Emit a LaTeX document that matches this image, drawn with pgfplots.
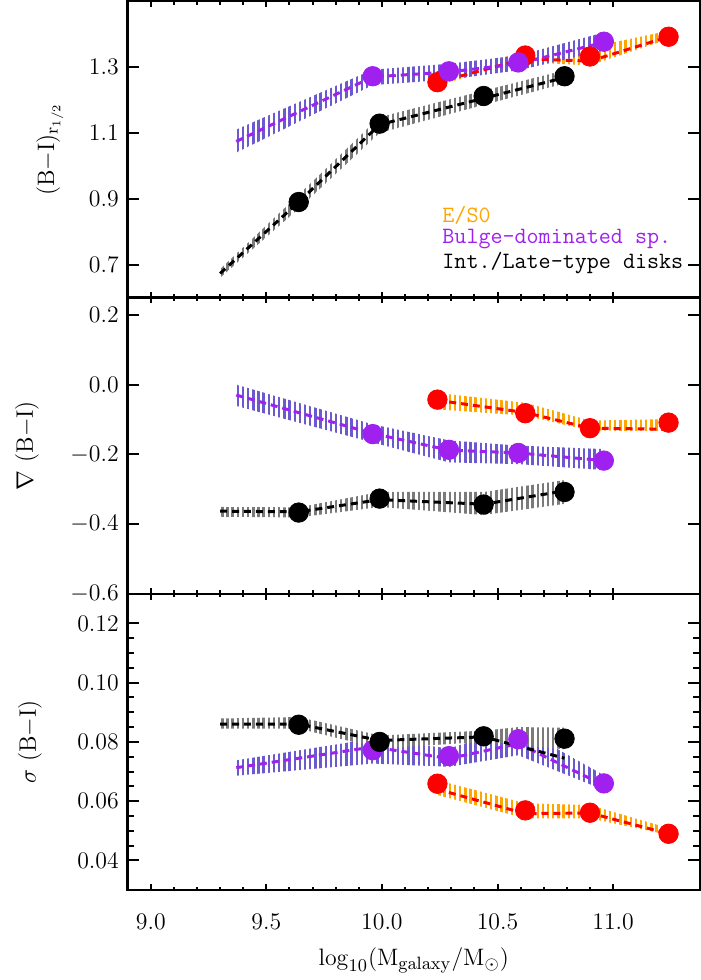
\documentclass[border=0pt]{standalone}
\usepackage{pgfplots}
\pgfplotsset{compat=1.18}
\usepgfplotslibrary{fillbetween}
\usetikzlibrary{patterns.meta}
\definecolor{purp}{HTML}{A020F0}
\definecolor{slate}{HTML}{6A5ACD}
\definecolor{orng}{HTML}{FFA500}
\definecolor{hgray}{HTML}{7A7A7A}
\tikzset{legtext/.style={anchor=west, font=\ttfamily\fontsize{11.8}{12}\selectfont, inner sep=0pt}}
\pgfplotsset{
  panel/.style={
    scale only axis, width=287.7bp, height=149bp,
    xmin=8.9, xmax=11.375,
    xtick={9,9.5,10,10.5,11}, minor x tick num=4,
    tick align=inside, xtick pos=both, ytick pos=both,
    axis line style={line width=1.2bp},
    every tick/.style={black, line width=1bp},
    major tick length=5.8bp, minor tick length=3.3bp,
    xtick style={/pgfplots/major tick length=3bp, /pgfplots/minor tick length=1.7bp},
    tick label style={font=\fontsize{12.5}{14}\selectfont},
    label style={font=\fontsize{12.5}{14}\selectfont},
    yticklabel style={xshift=-1bp},
    clip=false,
  },
  band/.style={draw=none, pattern={Lines[angle=90,distance=2.6bp,line width=1.2bp]}},
  dline/.style={line width=1.5bp, dash pattern=on 3.5bp off 2.5bp},
  dots/.style={only marks, mark=*, mark size=4.9bp, mark options={draw=#1, fill=#1}},
  hid/.style={draw=none, forget plot},
}
\begin{document}
\begin{tikzpicture}
%================ TOP =================
\begin{axis}[panel, name=top, at={(0,0)}, anchor=north west,
  ymin=0.6, ymax=1.5, ytick={0.7,0.9,1.1,1.3}, xticklabels={},
  yticklabel style={/pgf/number format/fixed, /pgf/number format/fixed zerofill, /pgf/number format/precision=1},
  ylabel={$(\mathrm{B}{-}\mathrm{I})_{\mathrm{r}_{1/2}}$},
  ylabel style={at={(axis description cs:-0.136,0.5)}, anchor=center}]
% bands
\addplot[hid, name path=rl] coordinates {(10.24,1.245) (10.62,1.315) (10.90,1.305) (11.24,1.385)};
\addplot[hid, name path=rh] coordinates {(10.24,1.285) (10.62,1.345) (10.90,1.360) (11.24,1.410)};
\addplot[band, pattern color=orng] fill between[of=rl and rh];
\addplot[hid, name path=pl] coordinates {(9.37,1.04) (9.96,1.245) (10.29,1.262) (10.59,1.29) (10.96,1.35)};
\addplot[hid, name path=ph] coordinates {(9.37,1.11) (9.96,1.292) (10.29,1.31) (10.59,1.335) (10.96,1.405)};
\addplot[band, pattern color=slate] fill between[of=pl and ph];
\addplot[hid, name path=bl] coordinates {(9.30,0.660) (9.64,0.870) (9.99,1.100) (10.44,1.185) (10.79,1.250)};
\addplot[hid, name path=bh] coordinates {(9.30,0.686) (9.64,0.912) (9.99,1.148) (10.44,1.228) (10.79,1.290)};
\addplot[band, pattern color=hgray] fill between[of=bl and bh];
% lines
\addplot[dline, red] coordinates {(10.24,1.254) (10.62,1.325) (10.90,1.318) (11.24,1.392)};
\addplot[dline, purp] coordinates {(9.37,1.074) (9.96,1.270) (10.29,1.285) (10.59,1.310) (10.96,1.375)};
\addplot[dline, black] coordinates {(9.30,0.673) (9.64,0.890) (9.99,1.125) (10.44,1.205) (10.79,1.268)};
% dots
\addplot[dots=red] coordinates {(10.24,1.254) (10.62,1.335) (10.90,1.332) (11.24,1.392)};
\addplot[dots=purp] coordinates {(9.96,1.272) (10.29,1.287) (10.59,1.314) (10.96,1.377)};
\addplot[dots=black] coordinates {(9.64,0.890) (9.99,1.128) (10.44,1.212) (10.79,1.272)};
% legend text
\node[legtext, text=orng] at (axis cs:10.26,0.849) {E/S0};
\node[legtext, text=purp] at (axis cs:10.26,0.777) {Bulge\textendash dominated sp.};
\node[legtext, text=black] at (axis cs:10.26,0.705) {Int./Late\textendash type disks};
\end{axis}
%================ MIDDLE =================
\begin{axis}[panel, name=mid, at={(top.south west)}, anchor=north west,
  ymin=-0.6, ymax=0.25, ytick={-0.6,-0.4,-0.2,0,0.2}, xticklabels={},
  yticklabel style={/pgf/number format/fixed, /pgf/number format/fixed zerofill, /pgf/number format/precision=1},
  ylabel={$\nabla\ (\mathrm{B}{-}\mathrm{I})$},
  ylabel style={at={(axis description cs:-0.176,0.5)}, anchor=center}]
\addplot[hid, name path=rl] coordinates {(10.24,-0.071) (10.62,-0.089) (10.90,-0.132) (11.24,-0.133)};
\addplot[hid, name path=rh] coordinates {(10.24,-0.024) (10.62,-0.052) (10.90,-0.103) (11.24,-0.099)};
\addplot[band, pattern color=orng] fill between[of=rl and rh];
\addplot[hid, name path=pl] coordinates {(9.37,-0.061) (9.96,-0.166) (10.29,-0.223) (10.59,-0.228) (10.96,-0.245)};
\addplot[hid, name path=ph] coordinates {(9.37,0.000) (9.96,-0.114) (10.29,-0.160) (10.59,-0.175) (10.96,-0.185)};
\addplot[band, pattern color=slate] fill between[of=pl and ph];
\addplot[hid, name path=bl] coordinates {(9.30,-0.379) (9.64,-0.381) (9.99,-0.351) (10.44,-0.374) (10.79,-0.342)};
\addplot[hid, name path=bh] coordinates {(9.30,-0.351) (9.64,-0.352) (9.99,-0.308) (10.44,-0.308) (10.79,-0.274)};
\addplot[band, pattern color=hgray] fill between[of=bl and bh];
\addplot[dline, red] coordinates {(10.24,-0.045) (10.62,-0.080) (10.90,-0.125) (11.24,-0.128)};
\addplot[dline, purp] coordinates {(9.37,-0.030) (9.96,-0.140) (10.29,-0.188) (10.59,-0.196) (10.96,-0.218)};
\addplot[dline, black] coordinates {(9.30,-0.363) (9.64,-0.365) (9.99,-0.330) (10.44,-0.343) (10.79,-0.305)};
\addplot[dots=red] coordinates {(10.24,-0.043) (10.62,-0.082) (10.90,-0.125) (11.24,-0.109)};
\addplot[dots=purp] coordinates {(9.96,-0.142) (10.29,-0.187) (10.59,-0.196) (10.96,-0.218)};
\addplot[dots=black] coordinates {(9.64,-0.367) (9.99,-0.327) (10.44,-0.344) (10.79,-0.308)};
\end{axis}
%================ BOTTOM =================
\begin{axis}[panel, name=bot, at={(mid.south west)}, anchor=north west,
  ymin=0.03, ymax=0.13, ytick={0.04,0.06,0.08,0.10,0.12}, minor y tick num=3,
  yticklabel style={/pgf/number format/fixed, /pgf/number format/fixed zerofill, /pgf/number format/precision=2},
  xticklabel style={/pgf/number format/fixed, /pgf/number format/fixed zerofill, /pgf/number format/precision=1, anchor=center, yshift=-16bp},
  ylabel={$\sigma\ (\mathrm{B}{-}\mathrm{I})$},
  ylabel style={at={(axis description cs:-0.171,0.5)}, anchor=center},
  xlabel={$\log_{10}(\mathrm{M}_{\mathrm{galaxy}}/\mathrm{M}_{\odot})$},
  xlabel style={at={(axis description cs:0.5,0)}, anchor=center, yshift=-35.5bp}]
\addplot[hid, name path=rl] coordinates {(10.24,0.0621) (10.62,0.0542) (10.90,0.0542) (11.24,0.0486)};
\addplot[hid, name path=rh] coordinates {(10.24,0.0671) (10.62,0.0593) (10.90,0.0587) (11.24,0.0509)};
\addplot[band, pattern color=orng] fill between[of=rl and rh];
\addplot[hid, name path=pl] coordinates {(9.37,0.0686) (9.96,0.0727) (10.29,0.0716) (10.59,0.0755) (10.96,0.0638)};
\addplot[hid, name path=ph] coordinates {(9.37,0.0738) (9.96,0.0811) (10.29,0.0778) (10.59,0.0850) (10.96,0.0688)};
\addplot[band, pattern color=slate] fill between[of=pl and ph];
\addplot[hid, name path=bl] coordinates {(9.30,0.0845) (9.64,0.0845) (9.99,0.0778) (10.44,0.0800) (10.59,0.0790) (10.79,0.0775)};
\addplot[hid, name path=bh] coordinates {(9.30,0.0879) (9.64,0.0884) (9.99,0.0822) (10.44,0.0838) (10.59,0.0850) (10.79,0.0848)};
\addplot[band, pattern color=hgray] fill between[of=bl and bh];
\addplot[dline, red] coordinates {(10.24,0.0640) (10.62,0.0558) (10.90,0.0560) (11.24,0.0490)};
\addplot[dline, purp] coordinates {(9.37,0.0713) (9.96,0.0783) (10.29,0.0744) (10.59,0.0794) (10.96,0.0654)};
\addplot[dline, black] coordinates {(9.30,0.0860) (9.64,0.0860) (9.99,0.0805) (10.44,0.0817) (10.79,0.0745)};
\addplot[dots=red] coordinates {(10.24,0.0659) (10.62,0.0569) (10.90,0.0561) (11.24,0.0490)};
\addplot[dots=purp] coordinates {(9.96,0.0772) (10.29,0.0752) (10.59,0.0809) (10.96,0.0660)};
\addplot[dots=black] coordinates {(9.64,0.0858) (9.99,0.0800) (10.44,0.0819) (10.79,0.0811)};
\end{axis}
\path ([xshift=-64.2bp]top.north west) rectangle ([yshift=-42.5bp]bot.south east);
\end{tikzpicture}
\end{document}
